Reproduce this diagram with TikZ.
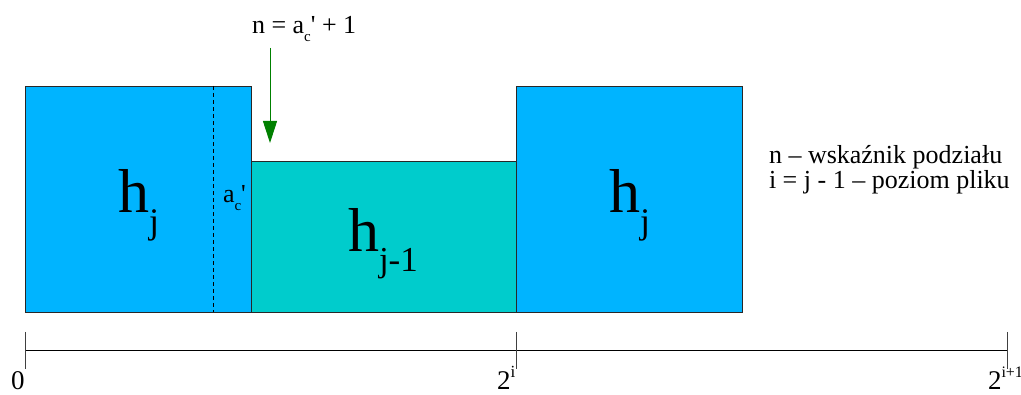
\documentclass[tikz,border=0pt]{standalone}
\usepackage{fontspec}
\setmainfont{Liberation Serif}[Ligatures=TeXOff]
\usetikzlibrary{arrows.meta}
\definecolor{boxblue}{RGB}{0,180,255}
\definecolor{boxteal}{RGB}{0,204,204}
\definecolor{arrowgreen}{RGB}{0,128,0}
\definecolor{edgecol}{RGB}{40,40,40}
\newcommand{\fsz}[1]{\fontsize{#1}{#1}\selectfont}
\begin{document}
\begin{tikzpicture}[x=1pt,y=-1pt,
  blk/.style={draw=edgecol, line width=0.8pt, inner sep=0pt, outer sep=0pt, anchor=north west},
  txt/.style={inner sep=0pt, outer sep=0pt, anchor=base west, font=\fsz{26}},
  axisline/.style={draw=black, line width=0.9pt},
  tickline/.style={draw=black!75, line width=0.8pt},
  dashline/.style={draw=black, line width=0.7pt, dash pattern=on 4pt off 3pt},
  greenarrow/.style={draw=arrowgreen, line width=1pt, -{Triangle[length=22pt,width=14pt]}}]
\useasboundingbox (0,0) rectangle (1021,395);
% blocks
\node[blk, fill=boxblue, minimum width=226pt, minimum height=226pt] (L) at (25,86) {};
\node[blk, fill=boxblue, minimum width=226pt, minimum height=226pt] (R) at (516,86) {};
\node[blk, fill=boxteal, minimum width=265pt, minimum height=151pt] (M) at (251,161) {};
% dashed split
\coordinate (d1) at (213,86);
\coordinate (d2) at (213,312);
\draw[dashline] (d1) -- (d2);
% labels in blocks
\node[txt] (hL) at (118,213) {\fsz{62}h\raisebox{-21pt}{\fsz{36}j}};
\node[txt] (hR) at (609,213) {\fsz{62}h\raisebox{-21pt}{\fsz{36}j}};
\node[txt] (hM) at (348,252) {\fsz{62}h\raisebox{-20pt}{\fsz{35}j-1}};
\node[txt] (ac) at (223,203) {a\raisebox{-8pt}{\fsz{15}c}'};
% top label and arrow
\node[txt] (top) at (252,34) {n = a\raisebox{-8pt}{\fsz{15}c}' + 1};
\coordinate (a1) at (270,48);
\coordinate (a2) at (270,143);
\draw[greenarrow] (a1) -- (a2);
% legend
\node[txt] (leg1) at (769,164) {n – wskaźnik podziału};
\node[txt] (leg2) at (769,189) {i = j - 1 – poziom pliku};
% axis
\coordinate (x0) at (25,350);
\coordinate (x1) at (516,350);
\coordinate (x2) at (1007,350);
\draw[axisline] (x0) -- (x2);
\coordinate (t0a) at (25,332); \coordinate (t0b) at (25,369);
\coordinate (t1a) at (516,332); \coordinate (t1b) at (516,369);
\coordinate (t2a) at (1007,332); \coordinate (t2b) at (1007,369);
\draw[tickline] (t0a) -- (t0b);
\draw[tickline] (t1a) -- (t1b);
\draw[tickline] (t2a) -- (t2b);
\node[txt, font=\fsz{27}] (l0) at (11,390) {0};
\node[txt, font=\fsz{27}] (l1) at (497,390) {2\raisebox{12pt}{\fsz{17}i}};
\node[txt, font=\fsz{27}] (l2) at (988,390) {2\raisebox{12pt}{\fsz{16}i+1}};
\end{tikzpicture}
\end{document}
